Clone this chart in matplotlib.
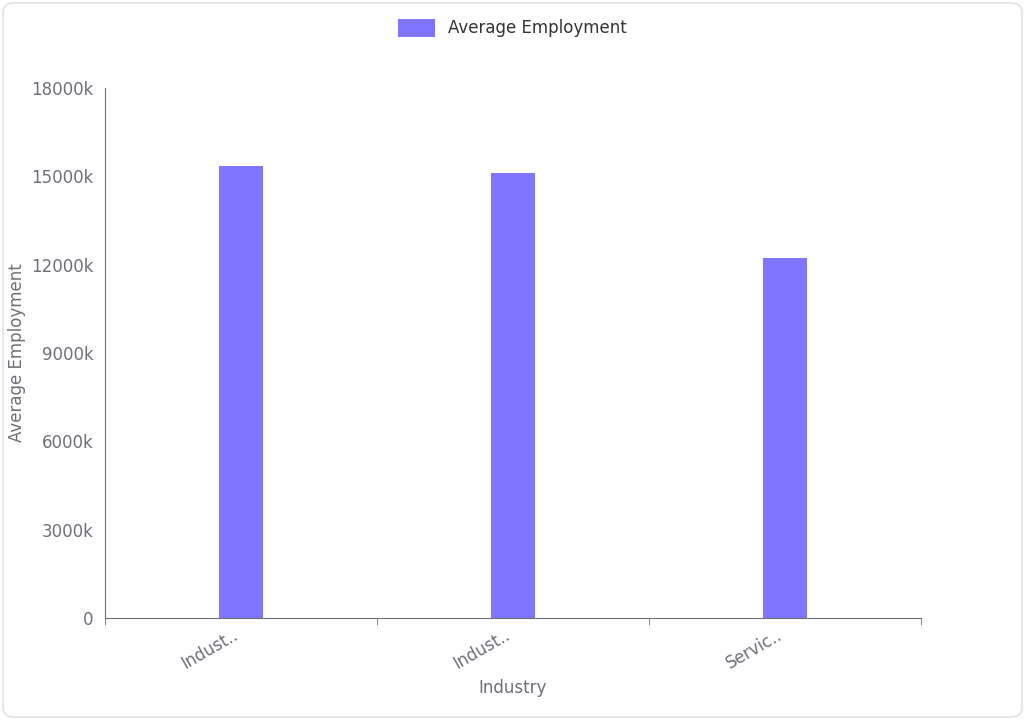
import matplotlib.pyplot as plt
from matplotlib.patches import FancyBboxPatch
from matplotlib.ticker import FixedLocator

industries = ["Indust..", "Indust..", "Servic.."]
employment_k = [15350, 15110, 12230]
y_ticks = [0, 3000, 6000, 9000, 12000, 15000, 18000]
y_labels = ["0", "3000k", "6000k", "9000k", "12000k", "15000k", "18000k"]

bar_color = "#8075ff"
grey = "#6e7079"

fig = plt.figure(figsize=(10.25, 7.2), dpi=100, facecolor="white")
# rounded outer border, behind everything
fig.patches.append(FancyBboxPatch((0.003, 0.004), 0.994, 0.992, boxstyle="round,pad=0,rounding_size=0.012",
                                  transform=fig.transFigure, fc="none", ec="#dddddd", lw=1, zorder=-10))
ax = fig.add_axes([0.1024, 0.1417, 0.796, 0.736])
ax.patch.set_alpha(0)

x = range(len(industries))
bars = ax.bar(x, employment_k, width=0.16, color=bar_color, label="Average Employment")
ax.set_xlim(-0.5, 2.5)
ax.set_ylim(0, 18000)
ax.set_yticks(y_ticks)
ax.set_yticklabels(y_labels, color=grey, fontsize=12)
ax.set_xticks(list(x))
ax.set_xticklabels(industries, rotation=30, ha="right", color=grey, fontsize=12)
ax.tick_params(axis="x", which="major", length=0, pad=6)
ax.xaxis.set_minor_locator(FixedLocator([-0.5, 0.5, 1.5, 2.5]))
ax.tick_params(axis="x", which="minor", length=5, color=grey)
ax.tick_params(axis="y", length=0, pad=8)
for s in ["top", "right"]:
    ax.spines[s].set_visible(False)
for s in ["left", "bottom"]:
    ax.spines[s].set_color(grey)

ax.set_xlabel("Industry", color=grey, fontsize=12, labelpad=4)
ax.set_ylabel("Average Employment", color=grey, fontsize=12, labelpad=4)

fig.legend(handles=[bars], loc="upper center", bbox_to_anchor=(0.5, 0.995), frameon=False,
           fontsize=12, handlelength=2.2, handleheight=1.3, labelcolor="#333333")

fig.savefig("out.png", dpi=100)
